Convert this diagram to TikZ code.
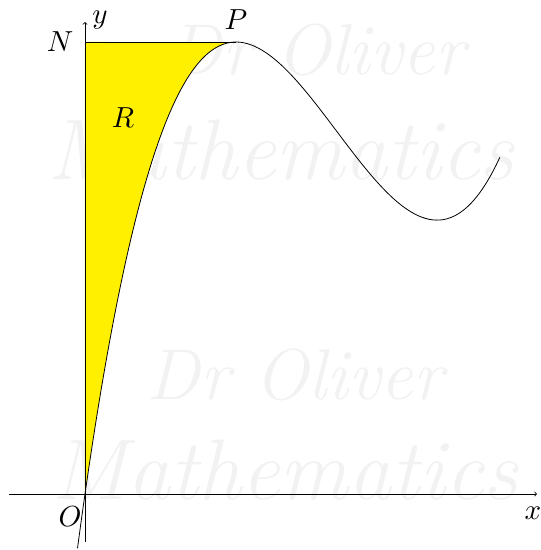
\documentclass[tikz,border=0pt]{standalone}
\usepackage{tikz}
\definecolor{ryellow}{RGB}{255,240,0}
\begin{document}
\begin{tikzpicture}[x=1pt,y=1pt,
  lbl/.style={scale=2.9, inner sep=0pt},
  wm/.style={text=black!5, font=\fontsize{72}{80}\selectfont\itshape, inner sep=0pt},
  wmbig/.style={text=black!5, font=\fontsize{86}{90}\selectfont\itshape, inner sep=0pt},
  axis/.style={line width=0.8pt, -to},
  crv/.style={line width=0.8pt}]
\useasboundingbox (-85,-56) rectangle (456,494);
% watermark
\node[wm] (w1) at (232,444) {Dr Oliver};
\node[wmbig] (w2) at (196,344) {Mathematics};
\node[wm] (w3) at (210,119) {Dr Oliver};
\node[wmbig] (w4) at (200,24) {Mathematics};
% points
\coordinate (O) at (0,0);
\coordinate (N) at (0,452);
\coordinate (P) at (151,452);
\coordinate (xl) at (-76,0);
\coordinate (xr) at (452,0);
\coordinate (yb) at (0,-48);
\coordinate (yt) at (0,472);
% region R
\fill[ryellow] (O) -- plot[domain=0:1.51,samples=80,smooth] ({100*\x},{43.793*\x*\x*\x-330.491*\x*\x+698.52*\x}) -- (N) -- cycle;
% axes
\draw[axis] (xl) -- (xr);
\draw[axis] (yb) -- (yt);
\draw[crv] (N) -- (P);
% curve
\draw[crv] plot[domain=-0.075:4.15,samples=120,smooth] ({100*\x},{43.793*\x*\x*\x-330.491*\x*\x+698.52*\x});
% labels
\node[lbl] (lO) at (-15,-23) {$O$};
\node[lbl] (lx) at (448,-19) {$x$};
\node[lbl] (ly) at (15,474) {$y$};
\node[lbl] (lN) at (-25,452) {$N$};
\node[lbl] (lP) at (151,474) {$P$};
\node[lbl] (lR) at (38,376) {$R$};
\end{tikzpicture}
\end{document}
